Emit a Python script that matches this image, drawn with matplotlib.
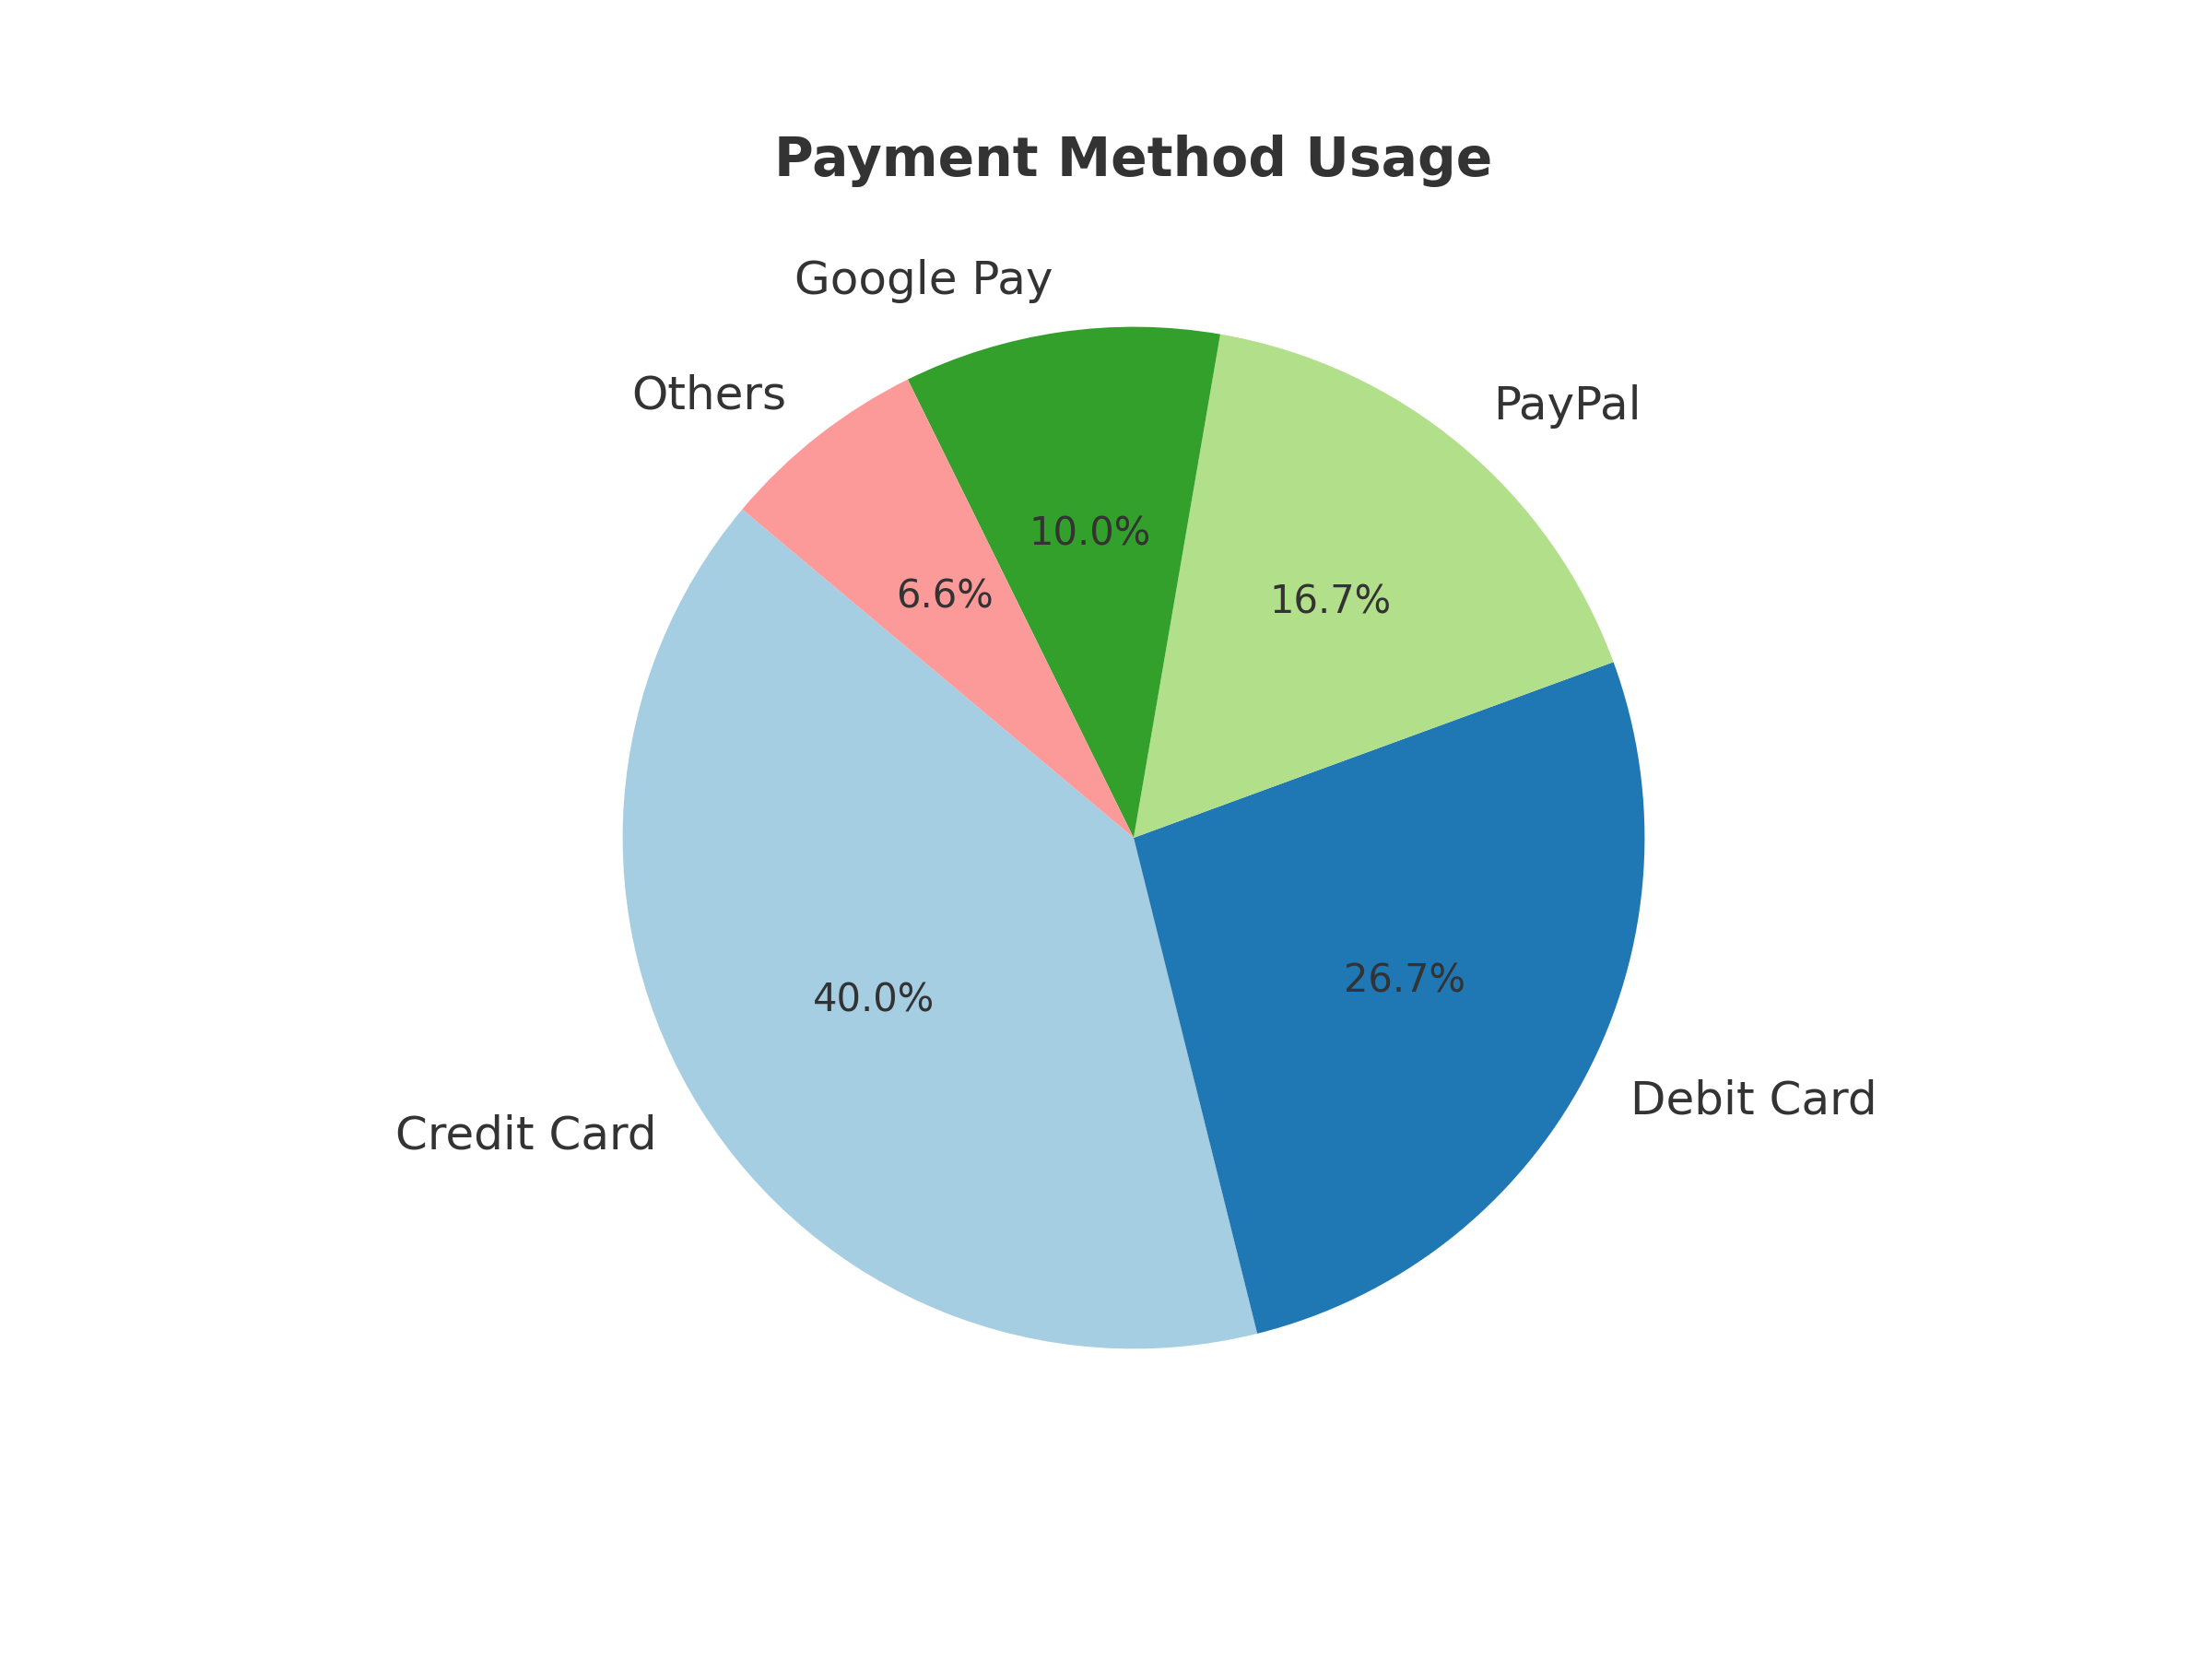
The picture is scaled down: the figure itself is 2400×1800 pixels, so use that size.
import matplotlib
matplotlib.use("Agg")
import matplotlib.pyplot as plt

categories = ["Credit Card", "Debit Card", "PayPal", "Google Pay", "Others"]
values = [40.0, 26.7, 16.7, 10.0, 6.6]
colors = ["#a6cee3", "#1f78b4", "#b2df8a", "#33a02c", "#fb9a99"]

plt.rcParams["text.color"] = "#333333"
plt.rcParams["font.family"] = ["DejaVu Sans"]

fig, ax = plt.subplots(figsize=(8, 6), dpi=300)
wedges, texts, autotexts = ax.pie(
    values, labels=categories, colors=colors, autopct="%1.1f%%",
    startangle=140, textprops={"fontsize": 12, "color": "#333333"},
)
for t in autotexts:
    t.set_fontsize(10)
ax.set_title("Payment Method Usage", fontsize=14, fontweight="bold", color="#333333")
fig.savefig("out.png", dpi=300)
